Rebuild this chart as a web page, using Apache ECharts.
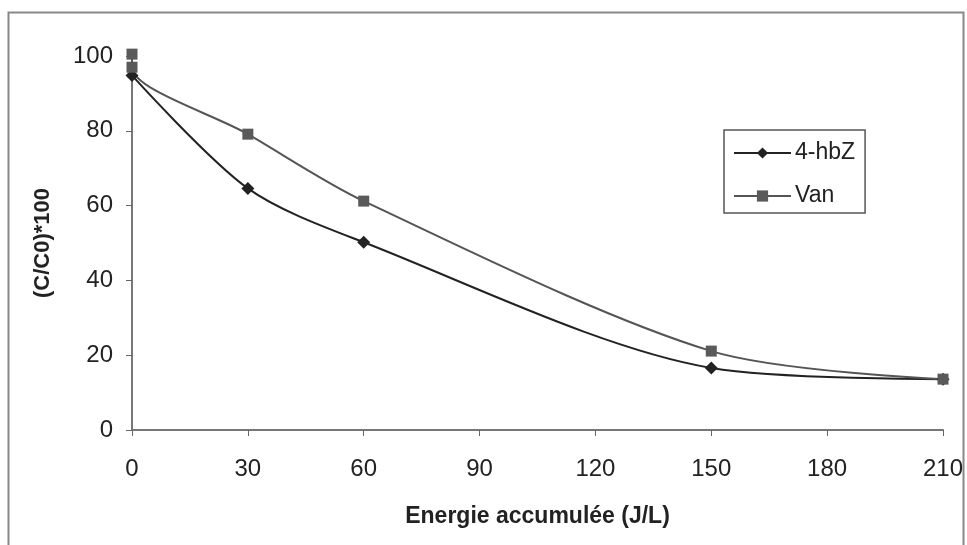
<!DOCTYPE html>
<html><head><meta charset="utf-8">
<script src="https://cdn.jsdelivr.net/npm/echarts@6/dist/echarts.min.js"></script>
<style>html,body{margin:0;padding:0;background:#fff}#c{width:967px;height:545px}</style>
</head><body><div id="c"></div>
<script>
const xTicks = [0, 30, 60, 90, 120, 150, 180, 210];
const hbzX = [0, 30, 60, 150, 210];
const hbzY = [94.8, 64.6, 50.2, 16.6, 13.6];
const vanX = [0, 0, 30, 60, 150, 210];
const vanY = [100.5, 97, 79.1, 61.2, 21.1, 13.6];
const seriesNames = ['4-hbZ', 'Van'];
const xName = 'Energie accumulée (J/L)';
const yName = '(C/C0)*100';

const chart = echarts.init(document.getElementById('c'), null, {renderer: 'canvas'});
const font = '"Liberation Sans", Arial, sans-serif';
chart.setOption({
  animation: false,
  backgroundColor: '#fff',
  graphic: [{type: 'rect', shape: {x: 8.5, y: 12.5, width: 955, height: 540}, style: {fill: 'none', stroke: '#888', lineWidth: 2}, silent: true}],
  grid: {left: 132, right: 24, top: 56, bottom: 115},
  legend: {
    left: 724, top: 130, orient: 'vertical',
    data: seriesNames,
    itemWidth: 57, itemHeight: 14, itemGap: 19,
    padding: [11, 10, 5, 9],
    borderColor: '#555', borderWidth: 1.5,
    textStyle: {fontFamily: font, fontSize: 23, lineHeight: 24, color: '#222', padding: [0, 0, 0, -1]}
  },
  xAxis: {
    type: 'value', min: 0, max: 210, interval: 30,
    name: xName, nameLocation: 'middle', nameGap: 75,
    nameTextStyle: {fontFamily: font, fontSize: 23, fontWeight: 'bold', color: '#222'},
    axisLine: {lineStyle: {color: '#777', width: 2}},
    axisTick: {show: true, length: 6, lineStyle: {color: '#666'}},
    axisLabel: {fontFamily: font, fontSize: 24, color: '#222', margin: 27},
    splitLine: {show: false}
  },
  yAxis: {
    type: 'value', min: 0, max: 100, interval: 20,
    name: yName, nameLocation: 'middle', nameGap: 78, nameRotate: 90,
    nameTextStyle: {fontFamily: font, fontSize: 22, fontWeight: 'bold', color: '#222'},
    axisLine: {show: true, lineStyle: {color: '#777', width: 2}},
    axisTick: {show: true, length: 6, lineStyle: {color: '#666'}},
    axisLabel: {fontFamily: font, fontSize: 24, color: '#222', margin: 19},
    splitLine: {show: false}
  },
  series: [
    {
      name: seriesNames[0], type: 'line', smooth: 0.3, clip: false,
      data: hbzX.map((x, i) => [x, hbzY[i]]),
      symbol: 'diamond', symbolSize: 13,
      lineStyle: {color: '#222', width: 2},
      itemStyle: {color: '#222'}
    },
    {
      name: seriesNames[1], type: 'line', smooth: 0.3, clip: false,
      data: vanX.map((x, i) => [x, vanY[i]]),
      symbol: 'rect', symbolSize: 11,
      lineStyle: {color: '#555', width: 2},
      itemStyle: {color: '#5a5a5a'}
    }
  ]
});
</script></body></html>
